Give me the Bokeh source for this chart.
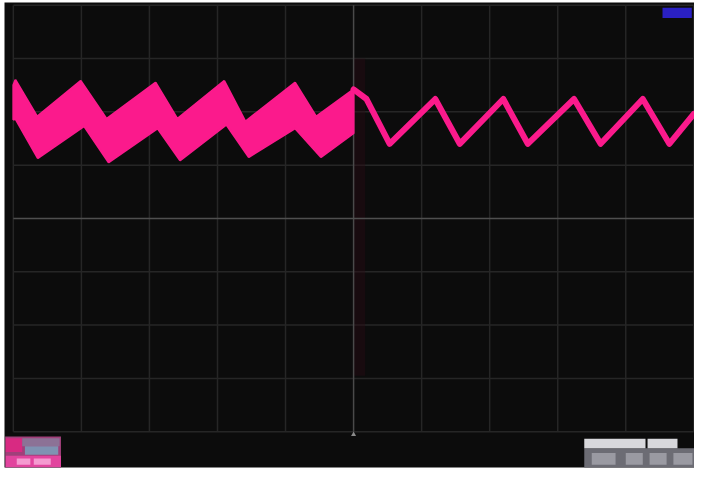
from bokeh.plotting import figure
from bokeh.models import Range1d
from bokeh.embed import file_html
from bokeh.resources import INLINE

# ---- data (screen divisions: x = time div, y = volts div) ----
grid_x = [0, 1, 2, 3, 4, 6, 7, 8, 9, 10]
grid_y = [-4, -3, -2, -1, 1, 2, 3, 4]

# thick (persistence) band, left half of screen
band_upper_x = [0.00, 0.03, 0.35, 0.99, 1.37, 2.09, 2.41, 3.10, 3.41, 4.14, 4.45, 5.00]
band_upper_y = [2.50, 2.60, 1.91, 2.58, 1.87, 2.55, 1.87, 2.58, 1.82, 2.55, 1.91, 2.42]
band_lower_x = [0.00, 0.03, 0.36, 1.04, 1.40, 2.12, 2.45, 3.13, 3.46, 4.14, 4.52, 5.00]
band_lower_y = [1.85, 1.87, 1.13, 1.73, 1.05, 1.69, 1.09, 1.76, 1.15, 1.69, 1.15, 1.60]

# single trace, right half of screen
trace_x = [5.00, 5.19, 5.53, 6.20, 6.56, 7.20, 7.56, 8.24, 8.63, 9.25, 9.64, 10.00]
trace_y = [2.42, 2.24, 1.40, 2.24, 1.40, 2.24, 1.40, 2.24, 1.40, 2.24, 1.40, 1.96]

PINK = "#fb1a8c"
BG = "#0c0c0c"

p = figure(width=694, height=469, output_backend="svg", toolbar_location=None,
           x_range=Range1d(-0.13, 10.01), y_range=Range1d(-4.67, 4.05),
           x_axis_type=None, y_axis_type=None,
           min_border_left=4, min_border_right=0, min_border_top=2, min_border_bottom=2)
p.background_fill_color = BG
p.border_fill_color = "white"
p.outline_line_color = None

# graticule
p.segment(x0=grid_x, y0=[-4] * len(grid_x), x1=grid_x, y1=[4] * len(grid_x),
          line_color="#262626", line_width=1.5)
p.segment(x0=[0] * len(grid_y), y0=grid_y, x1=[10] * len(grid_y), y1=grid_y,
          line_color="#262626", line_width=1.5)
# faint dark-red persistence column near trigger
p.quad(left=[5.0], right=[5.17], bottom=[-2.95], top=[3.0],
       fill_color="#2a0b14", fill_alpha=0.4, line_color=None)
# centre lines
p.segment(x0=[5], y0=[-4], x1=[5], y1=[4], line_color="#4a4a4a", line_width=1.5)
p.segment(x0=[0], y0=[0], x1=[10], y1=[0], line_color="#4f4f4f", line_width=1.5)

# waveform
p.patch(x=band_upper_x + band_lower_x[::-1], y=band_upper_y + band_lower_y[::-1],
        fill_color=PINK, line_color=PINK, line_width=2)
p.line(trace_x, trace_y, line_color=PINK, line_width=6, line_join="round", line_cap="round")

# trigger marker
p.scatter(x=[5.0], y=[-4.05], marker="triangle", size=5, fill_color="#8a8a8a", line_color=None)

# status bar decorations
p.quad(left=[-0.12], right=[0.70], bottom=[-4.68], top=[-4.09], fill_color="#a0407a", line_color=None)
p.quad(left=[-0.11], right=[0.13], bottom=[-4.38], top=[-4.12], fill_color="#d82a82", line_color=None)
p.quad(left=[0.13], right=[0.68], bottom=[-4.27], top=[-4.12], fill_color="#8c7296", line_color=None)
p.quad(left=[0.17], right=[0.66], bottom=[-4.43], top=[-4.27], fill_color="#7f93b2", line_color=None)
p.quad(left=[-0.11], right=[0.70], bottom=[-4.66], top=[-4.45], fill_color="#e2449e", line_color=None)
p.quad(left=[0.05, 0.30], right=[0.25, 0.55], bottom=[-4.62, -4.62], top=[-4.50, -4.50],
       fill_color="#f59ad0", line_color=None)

p.quad(left=[8.39], right=[10.01], bottom=[-4.69], top=[-4.31], fill_color="#6c6c74", line_color=None)
p.quad(left=[8.39, 9.32], right=[9.29, 9.76], bottom=[-4.31, -4.31], top=[-4.13, -4.13],
       fill_color="#d8d8dc", line_color=None)
p.quad(left=[8.50, 9.00, 9.35, 9.70], right=[8.85, 9.25, 9.60, 9.98],
       bottom=[-4.62] * 4, top=[-4.40] * 4, fill_color="#9a9aa2", line_color=None)

p.quad(left=[9.54], right=[9.97], bottom=[3.76], top=[3.95], fill_color="#2a20c4", line_color=None)

open("out.html", "w").write(file_html(p, INLINE))
